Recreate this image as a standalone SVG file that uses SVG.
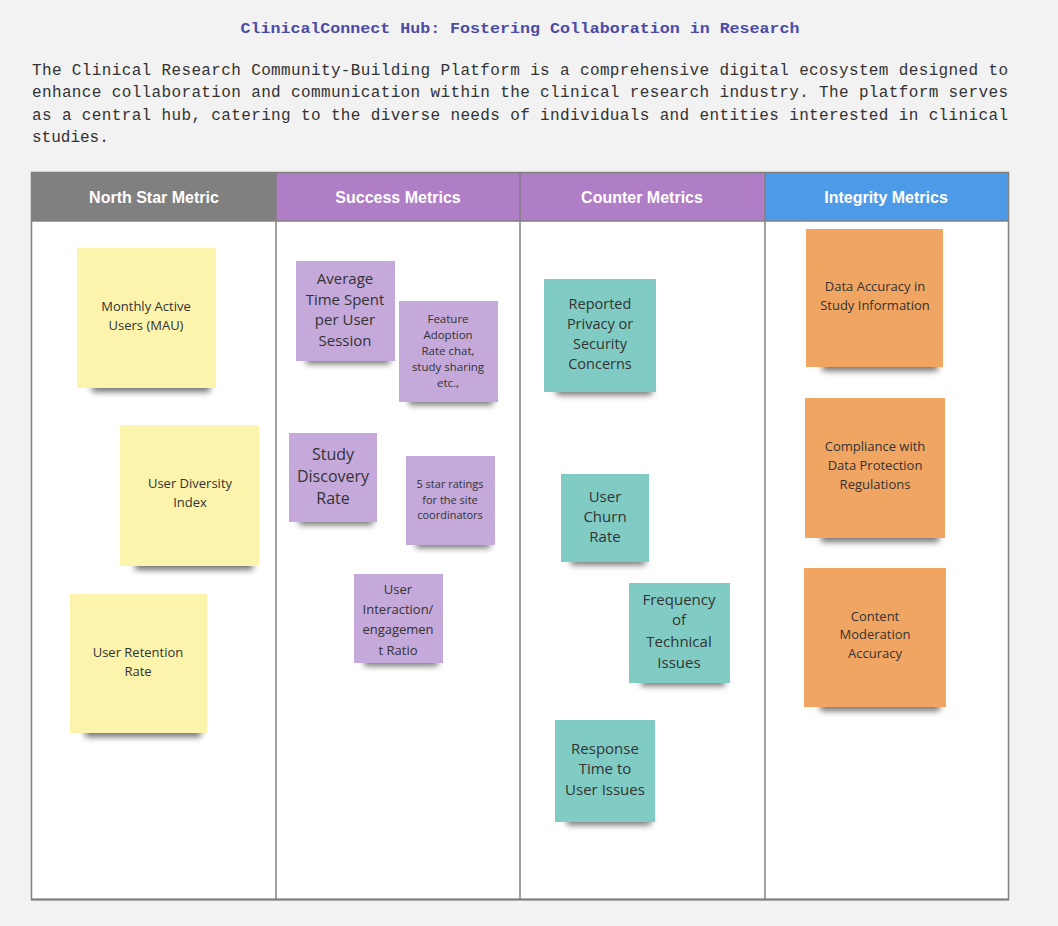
<svg xmlns="http://www.w3.org/2000/svg" width="1058" height="926" viewBox="0 0 1058 926">
<defs>
<style>
.title{font-family:"Liberation Mono",monospace;font-weight:bold;font-size:15px;fill:#4b4ba6}
.para{font-family:"Liberation Mono",monospace;font-size:16px;fill:#333}
.hdr{font-family:"Liberation Sans",Arial,sans-serif;font-weight:bold;font-size:16px;fill:#fff;text-anchor:middle}
.nt{font-family:"Open Sans","Noto Sans",sans-serif;fill:#333;text-anchor:middle}
.y{fill:#fcf4ad}.p{fill:#c5a9da}.t{fill:#80cbc3}.o{fill:#f1a562}
.sh{fill:#000;opacity:0.55;filter:url(#blur)}
.div{stroke:#808080;stroke-width:1.5;fill:none}
</style>
<filter id="blur" x="-20%" y="-100%" width="140%" height="300%"><feGaussianBlur stdDeviation="3"/></filter>
</defs>
<rect width="1058" height="926" fill="#f2f2f2"/>
<text class="title" x="520" y="33" text-anchor="middle" textLength="559" lengthAdjust="spacingAndGlyphs">ClinicalConnect Hub: Fostering Collaboration in Research</text>
<g class="para">
<text x="32" y="75" textLength="976" lengthAdjust="spacing">The Clinical Research Community-Building Platform is a comprehensive digital ecosystem designed to</text>
<text x="32" y="97" textLength="976" lengthAdjust="spacing">enhance collaboration and communication within the clinical research industry. The platform serves</text>
<text x="32" y="120" textLength="976" lengthAdjust="spacing">as a central hub, catering to the diverse needs of individuals and entities interested in clinical</text>
<text x="32" y="142">studies.</text>
</g>
<g id="table">
<rect x="31" y="172" width="978" height="728" fill="#fff"/>
<rect x="31" y="172" width="245" height="49" fill="#808080"/>
<rect x="276" y="172" width="244" height="49" fill="#b07dc7"/>
<rect x="520" y="172" width="245" height="49" fill="#b07dc7"/>
<rect x="765" y="172" width="244" height="49" fill="#4d9be8"/>
<text class="hdr" x="154" y="203">North Star Metric</text>
<text class="hdr" x="398" y="203">Success Metrics</text>
<text class="hdr" x="642" y="203">Counter Metrics</text>
<text class="hdr" x="886" y="203">Integrity Metrics</text>
<rect x="31.5" y="172.5" width="977" height="727" class="div"/>
<line x1="31" y1="221" x2="1009" y2="221" class="div"/>
<line x1="276" y1="172" x2="276" y2="900" class="div"/>
<line x1="520" y1="172" x2="520" y2="900" class="div"/>
<line x1="765" y1="172" x2="765" y2="900" class="div"/>
<line x1="31" y1="899.5" x2="1009" y2="899.5" stroke="#808080" stroke-width="2"/>
</g>
<g id="n1"><rect class="sh" x="92" y="382" width="118" height="10"/><rect class="y" x="77" y="248" width="139" height="140"/>
<text class="nt" font-size="13"><tspan x="146" y="311">Monthly Active</tspan><tspan x="146" y="330">Users (MAU)</tspan></text></g>
<g id="n2"><rect class="sh" x="135" y="560" width="118" height="10"/><rect class="y" x="120" y="425" width="139" height="141"/>
<text class="nt" font-size="13"><tspan x="190" y="488">User Diversity</tspan><tspan x="190" y="507">Index</tspan></text></g>
<g id="n3"><rect class="sh" x="85" y="727" width="116" height="10"/><rect class="y" x="70" y="594" width="137" height="139"/>
<text class="nt" font-size="13"><tspan x="138" y="657">User Retention</tspan><tspan x="138" y="676">Rate</tspan></text></g>
<g id="n4"><rect class="sh" x="306" y="355" width="84" height="9"/><rect class="p" x="296" y="261" width="99" height="100"/>
<text class="nt" font-size="15"><tspan x="345" y="284">Average</tspan><tspan x="345" y="305">Time Spent</tspan><tspan x="345" y="325">per User</tspan><tspan x="345" y="346">Session</tspan></text></g>
<g id="n5"><rect class="sh" x="409" y="396" width="84" height="9"/><rect class="p" x="399" y="301" width="99" height="101"/>
<text class="nt" font-size="11.5"><tspan x="448" y="323">Feature</tspan><tspan x="448" y="339">Adoption</tspan><tspan x="448" y="355">Rate chat,</tspan><tspan x="448" y="371">study sharing</tspan><tspan x="448" y="387">etc.,</tspan></text></g>
<g id="n6"><rect class="sh" x="299" y="516" width="74" height="9"/><rect class="p" x="289" y="433" width="88" height="89"/>
<text class="nt" font-size="16"><tspan x="333" y="460">Study</tspan><tspan x="333" y="482">Discovery</tspan><tspan x="333" y="504">Rate</tspan></text></g>
<g id="n7"><rect class="sh" x="416" y="539" width="74" height="9"/><rect class="p" x="406" y="456" width="89" height="89"/>
<text class="nt" font-size="11"><tspan x="450" y="488">5 star ratings</tspan><tspan x="450" y="504">for the site</tspan><tspan x="450" y="519">coordinators</tspan></text></g>
<g id="n8"><rect class="sh" x="364" y="657" width="74" height="9"/><rect class="p" x="354" y="574" width="89" height="89"/>
<text class="nt" font-size="13"><tspan x="398" y="594">User</tspan><tspan x="398" y="614">Interaction/</tspan><tspan x="398" y="634">engagemen</tspan><tspan x="398" y="655">t Ratio</tspan></text></g>
<g id="n9"><rect class="sh" x="556" y="386" width="96" height="9"/><rect class="t" x="544" y="279" width="112" height="113"/>
<text class="nt" font-size="14.5"><tspan x="600" y="309">Reported</tspan><tspan x="600" y="329">Privacy or</tspan><tspan x="600" y="349">Security</tspan><tspan x="600" y="369">Concerns</tspan></text></g>
<g id="n10"><rect class="sh" x="571" y="556" width="74" height="9"/><rect class="t" x="561" y="474" width="88" height="88"/>
<text class="nt" font-size="15"><tspan x="605" y="502">User</tspan><tspan x="605" y="522">Churn</tspan><tspan x="605" y="542">Rate</tspan></text></g>
<g id="n11"><rect class="sh" x="641" y="677" width="84" height="9"/><rect class="t" x="629" y="583" width="101" height="100"/>
<text class="nt" font-size="15"><tspan x="679" y="605">Frequency</tspan><tspan x="679" y="625">of</tspan><tspan x="679" y="647">Technical</tspan><tspan x="679" y="668">Issues</tspan></text></g>
<g id="n12"><rect class="sh" x="567" y="816" width="84" height="9"/><rect class="t" x="555" y="720" width="100" height="102"/>
<text class="nt" font-size="15"><tspan x="605" y="754">Response</tspan><tspan x="605" y="774">Time to</tspan><tspan x="605" y="795">User Issues</tspan></text></g>
<g id="n13"><rect class="sh" x="822" y="361" width="116" height="10"/><rect class="o" x="806" y="229" width="137" height="138"/>
<text class="nt" font-size="13"><tspan x="875" y="291">Data Accuracy in</tspan><tspan x="875" y="310">Study Information</tspan></text></g>
<g id="n14"><rect class="sh" x="821" y="532" width="118" height="10"/><rect class="o" x="805" y="398" width="140" height="140"/>
<text class="nt" font-size="13"><tspan x="875" y="451">Compliance with</tspan><tspan x="875" y="470">Data Protection</tspan><tspan x="875" y="489">Regulations</tspan></text></g>
<g id="n15"><rect class="sh" x="820" y="701" width="120" height="10"/><rect class="o" x="804" y="568" width="142" height="139"/>
<text class="nt" font-size="13"><tspan x="875" y="621">Content</tspan><tspan x="875" y="639">Moderation</tspan><tspan x="875" y="658">Accuracy</tspan></text></g>
<g id="connectors"/>
</svg>
